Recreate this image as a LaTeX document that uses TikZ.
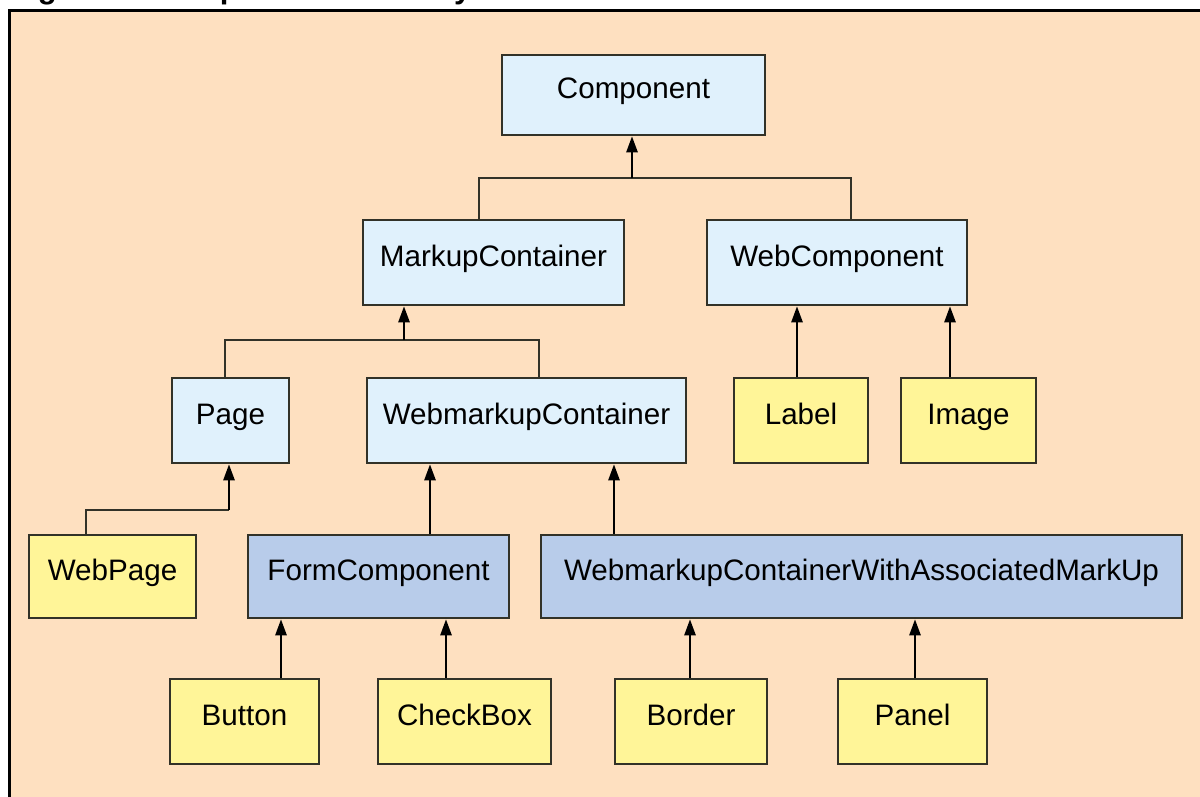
\documentclass[tikz,border=0pt]{standalone}
\usepackage{fontspec}
\setmainfont{Liberation Sans}
\usetikzlibrary{arrows.meta}
\definecolor{bg}{RGB}{254,224,192}
\definecolor{lblue}{RGB}{224,241,252}
\definecolor{lyel}{RGB}{255,245,152}
\definecolor{lpur}{RGB}{184,204,234}
\definecolor{edgec}{RGB}{50,50,40}
\begin{document}
\begin{tikzpicture}[x=1pt,y=-1pt,
  box/.style={draw=edgec, line width=2.5pt, inner sep=0pt, text height=22pt, text depth=14.8pt,
    font=\fontsize{29.6}{34}\selectfont},
  bluebox/.style={box, fill=lblue},
  yelbox/.style={box, fill=lyel},
  purbox/.style={box, fill=lpur},
  conn/.style={draw=edgec, line width=2.5pt},
  arr/.style={conn, -{Triangle[length=16pt,width=11pt]}, color=black}
]
\useasboundingbox (0,0) rectangle (1200,796);
\clip (0,0) rectangle (1200,796);
\fill[white] (0,0) rectangle (1200,796);
\node[anchor=base west, inner sep=0pt, font=\bfseries\fontsize{31}{36}\selectfont] (title) at (10,-1.5) {Figure 1. Component hierarchy};
\draw[line width=2.5pt, fill=bg] (9.5,10.5) rectangle (1220,820);

% nodes
\node[bluebox, minimum width=263pt, minimum height=80pt] (comp) at (633.5,95) {Component};
\node[bluebox, minimum width=261pt, minimum height=85pt] (mc) at (493.5,262.5) {MarkupContainer};
\node[bluebox, minimum width=260pt, minimum height=85pt] (wc) at (837,262.5) {WebComponent};
\node[bluebox, minimum width=117pt, minimum height=85pt] (page) at (230.5,420.5) {Page};
\node[bluebox, minimum width=319pt, minimum height=85pt] (wmc) at (526.5,420.5) {WebmarkupContainer};
\node[yelbox, minimum width=134pt, minimum height=85pt] (lab) at (801,420.5) {Label};
\node[yelbox, minimum width=135pt, minimum height=85pt] (img) at (968.5,420.5) {Image};
\node[yelbox, minimum width=167pt, minimum height=83pt] (wp) at (112.5,576.5) {WebPage};
\node[purbox, minimum width=261pt, minimum height=83pt] (fc) at (378.5,576.5) {FormComponent};
\node[purbox, minimum width=641pt, minimum height=83pt] (wam) at (861.5,576.5) {WebmarkupContainerWithAssociatedMarkUp};
\node[yelbox, minimum width=149pt, minimum height=85pt] (btn) at (244.5,721.5) {Button};
\node[yelbox, minimum width=173pt, minimum height=85pt] (cb) at (464.5,721.5) {CheckBox};
\node[yelbox, minimum width=152pt, minimum height=85pt] (bord) at (691,721.5) {Border};
\node[yelbox, minimum width=149pt, minimum height=85pt] (pan) at (912.5,721.5) {Panel};

% junctions
\coordinate (j1) at (632,178);
\coordinate (j2) at (404,340);
\coordinate (j3) at (229,510);

% connectors
\draw[conn] ([xshift=-14.5pt]mc.north) |- (j1) -| ([xshift=14pt]wc.north);
\draw[arr] (j1) -- (j1 |- comp.south);
\draw[conn] ([xshift=-5.5pt]page.north) |- (j2) -| ([xshift=12.5pt]wmc.north);
\draw[arr] (j2) -- (j2 |- mc.south);
\draw[arr] ([xshift=-4pt]lab.north) -- ([xshift=-4pt]lab.north |- wc.south);
\draw[arr] ([xshift=-18.5pt]img.north) -- ([xshift=-18.5pt]img.north |- wc.south);
\draw[conn] ([xshift=-26.5pt]wp.north) |- (j3);
\draw[arr] (j3) -- (j3 |- page.south);
\draw[arr] ([xshift=51.5pt]fc.north) -- ([xshift=51.5pt]fc.north |- wmc.south);
\draw[arr] ([xshift=-247.5pt]wam.north) -- ([xshift=-247.5pt]wam.north |- wmc.south);
\draw[arr] ([xshift=36.5pt]btn.north) -- ([xshift=36.5pt]btn.north |- fc.south);
\draw[arr] ([xshift=-18.5pt]cb.north) -- ([xshift=-18.5pt]cb.north |- fc.south);
\draw[arr] ([xshift=-1pt]bord.north) -- ([xshift=-1pt]bord.north |- wam.south);
\draw[arr] ([xshift=2.5pt]pan.north) -- ([xshift=2.5pt]pan.north |- wam.south);
\end{tikzpicture}
\end{document}
